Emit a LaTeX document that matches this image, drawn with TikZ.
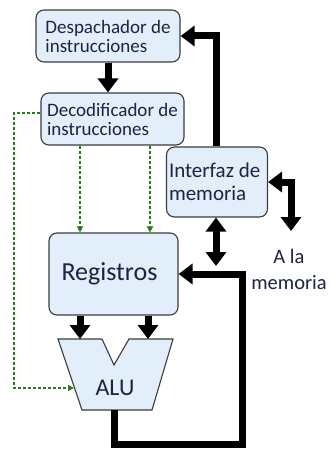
\documentclass[tikz,border=0pt]{standalone}
\usepackage{fontspec}
\setmainfont{Carlito}
\usetikzlibrary{arrows.meta}
\definecolor{boxfill}{HTML}{E2EEFA}
\definecolor{boxline}{HTML}{3C3C3C}
\definecolor{ctrlgreen}{HTML}{2A7A1E}
\definecolor{txt}{HTML}{1C2440}
\tikzset{
  unit/.style={draw=boxline, line width=1.1pt, fill=boxfill, rounded corners=8pt, text=txt, align=left, inner sep=0pt},
  bus/.style={line width=7pt, -{Triangle[width=20pt,length=14pt]}},
  dbus/.style={line width=7pt, {Triangle[width=20pt,length=14pt]}-{Triangle[width=20pt,length=14pt]}},
  ctrl/.style={draw=ctrlgreen, line width=1.4pt, dash pattern=on 3pt off 2pt, -{Triangle[width=6pt,length=6pt]}}
}
\begin{document}
\begin{tikzpicture}[x=1pt,y=-1pt]
\useasboundingbox (0,0) rectangle (330,452);

% Drawing the units
\node [unit, minimum width=144pt, minimum height=52pt, font=\fontsize{19}{19}\selectfont] (desp) at (108,36)
  {Despachador de\\instrucciones};
\node [unit, minimum width=143pt, minimum height=52pt, font=\fontsize{19}{19}\selectfont] (deco) at (112.5,119)
  {Decodificador de\\instrucciones};
\node [unit, minimum width=101pt, minimum height=70pt, font=\fontsize{21}{23}\selectfont] (inter) at (217,182)
  {\raisebox{4pt}{\parbox{96pt}{Interfaz de\\memoria}}};
\node [unit, minimum width=129pt, minimum height=82pt, font=\fontsize{26}{30}\selectfont] (reg) at (113.5,274)
  {Registros\hspace{8pt}};

% Drawing the ALU
\draw [draw=boxline, line width=1.1pt, fill=boxfill] (58,339) -- (102,339) -- (114,365) -- (129,339)
  -- (173,339) -- (152,410) -- (82,410) -- cycle;
\node [text=txt, font=\fontsize{24}{27}\selectfont] (alu) at (115,388) {ALU};
\coordinate (ina) at (80,339);
\coordinate (inb) at (148,339);
\coordinate (aluin) at (74,388);
\coordinate (aluout) at (114,410);

% Marking the memory
\node [text=txt, align=center, font=\fontsize{20.5}{26}\selectfont] (mem) at (289,269) {A la\\memoria};
\coordinate (memtop) at (291,231);
\coordinate (regbus) at (216,266);
\coordinate (loop) at (242,444);
\coordinate (lane1) at (80,0);
\coordinate (lane2) at (150,0);
\coordinate (side) at (14,0);

% Drawing the data paths
\draw [bus] (desp.south) -- (desp.south |- deco.north);
\draw [bus] (inter.north -| regbus) |- (desp.east);
\draw [dbus] (inter.east) -| (memtop);
\draw [dbus] (inter.south -| regbus) -- (regbus);
\draw [bus] (reg.south -| ina) -- (ina);
\draw [bus] (reg.south -| inb) -- (inb);
\draw [bus] (aluout) |- (loop) |- (reg.east);

% Drawing the control lines
\draw [ctrl] (deco.south -| lane1) -- (reg.north -| lane1);
\draw [ctrl] (deco.south -| lane2) -- (reg.north -| lane2);
\draw [ctrl] ([yshift=6pt]deco.west) -| (side |- aluin) -- (aluin);
\end{tikzpicture}
\end{document}
